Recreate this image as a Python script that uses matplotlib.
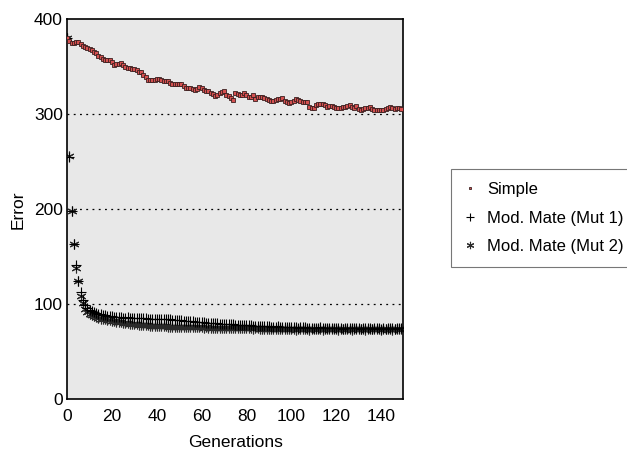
"""
Error vs generations plot for the three GA variants
"""

import numpy as np
import matplotlib
matplotlib.use('Agg')
import matplotlib.pyplot as plt

# Values, one per generation (0..149)
generations = np.arange(150)

simple_error = [
    380, 377, 375, 375, 376, 376, 374, 372, 371, 370,
    369, 368, 366, 364, 361, 360, 358, 357, 357, 357,
    355, 352, 353, 353, 354, 352, 350, 349, 349, 348,
    348, 347, 345, 344, 341, 339, 336, 336, 336, 336,
    337, 337, 336, 335, 335, 335, 333, 332, 332, 332,
    332, 332, 330, 328, 328, 328, 327, 326, 327,
    329, 328, 326, 325, 324, 322, 321, 319, 320, 322,
    323, 324, 320, 319, 317, 315, 322, 321, 320, 320,
    322, 320, 318, 318, 320, 316, 318, 318, 318, 317,
    316, 315, 314, 314, 315, 316, 316, 317, 314, 313,
    312, 313, 314, 316, 315, 314, 313, 313, 313, 308,
    307, 307, 310, 311, 311, 311, 310, 308, 309, 309,
    308, 307, 307, 307, 308, 308, 309, 310, 308, 307,
    309, 306, 305, 306, 307, 307, 308, 306, 305, 305,
    304, 304, 305, 306, 307, 308, 307, 306, 307, 307,
    306,
]

mut1_error = [
    380, 255, 198, 163, 141, 125, 113, 104, 99, 96,
    94, 93, 92, 91, 90, 90, 89, 89, 88, 88,
    88, 87, 87, 87, 87, 86, 86, 87, 86, 86,
    86, 86, 86, 86, 86, 86, 85, 85, 85, 85,
    84, 84, 84, 85, 84, 84, 84, 83, 83, 83,
    83, 83, 82, 82, 82, 82, 82, 81, 81, 81,
    81, 81, 80, 80, 80, 80, 80, 80, 79, 79,
    79, 79, 79, 79, 79, 78, 78, 78, 78, 78,
    78, 78, 78, 77, 77, 77, 77, 77, 77, 77,
    77, 76, 76, 76, 77, 76, 76, 76, 76, 76,
    76, 76, 76, 75, 76, 76, 76, 75, 75, 75,
    75, 75, 75, 76, 75, 75, 75, 75, 75, 75,
    75, 75, 75, 74, 75, 75, 75, 75, 75, 75,
    75, 74, 75, 75, 75, 75, 74, 75, 75, 75,
    74, 75, 74, 75, 75, 75, 74, 75, 75, 75,
]

mut2_error = [
    380, 256, 198, 163, 138, 125, 109, 101, 95, 92,
    90, 89, 88, 87, 86, 85, 84, 84, 83, 83,
    82, 82, 81, 81, 81, 80, 80, 80, 79, 79,
    79, 79, 78, 78, 78, 78, 78, 77, 77, 77,
    77, 77, 77, 77, 77, 76, 76, 76, 76, 76,
    76, 76, 76, 76, 76, 76, 76, 76, 76, 76,
    76, 75, 76, 75, 75, 75, 75, 75, 75, 75,
    75, 75, 75, 75, 75, 75, 75, 75, 75, 75,
    75, 75, 75, 74, 75, 75, 74, 74, 74, 74,
    74, 74, 74, 74, 74, 74, 74, 74, 74, 74,
    74, 74, 73, 74, 74, 74, 74, 74, 73, 74,
    74, 74, 74, 74, 73, 74, 74, 74, 74, 74,
    74, 73, 74, 74, 74, 74, 74, 73, 74, 74,
    74, 74, 74, 73, 74, 74, 74, 74, 74, 74,
    73, 74, 74, 74, 74, 73, 74, 74, 74, 74,
]

x_ticks = [0, 20, 40, 60, 80, 100, 120, 140]
y_ticks = [0, 100, 200, 300, 400]

# text-style asterisk (vertical bar plus two diagonals)
ASTERISK = (6, 2, 0)


def plot_error_curves(save_path='out.png'):
    """
    Plot error per generation for the simple GA and the two modified mates.
    """
    plt.rcParams['font.family'] = ['Liberation Sans', 'DejaVu Sans']

    fig = plt.figure(figsize=(6.27, 4.54), dpi=100)
    ax = fig.add_axes([0.107, 0.1205, 0.5365, 0.837])
    ax.set_facecolor('#e8e8e8')

    # dotted horizontal guides at 100/200/300 only
    for y in y_ticks[1:-1]:
        ax.axhline(y, color='black', linewidth=0.9,
                   linestyle=(0, (1.5, 3.5)), zorder=1)

    ax.plot(generations, mut2_error, linestyle='none', marker=ASTERISK,
            markersize=7, color='#2a2a2a', markeredgewidth=0.8,
            label='Mod. Mate (Mut 2)', zorder=2)
    ax.plot(generations, mut1_error, linestyle='none', marker='+',
            markersize=7.5, color='black', markeredgewidth=0.8,
            label='Mod. Mate (Mut 1)', zorder=3)
    ax.plot(generations, simple_error, linestyle='none', marker='s',
            markersize=2.4, markerfacecolor='#d45050',
            markeredgecolor='#3a2020', markeredgewidth=0.6,
            label='Simple', zorder=4)

    ax.set_xlim(0, 150)
    ax.set_ylim(0, 400)
    ax.set_xticks(x_ticks)
    ax.set_yticks(y_ticks)
    ax.tick_params(axis='x', length=0, pad=7, labelsize=12.5)
    ax.tick_params(axis='y', length=0, pad=3, labelsize=12.5)
    for spine in ax.spines.values():
        spine.set_linewidth(1.2)

    ax.set_xlabel('Generations', fontsize=12.5, labelpad=8)
    ax.set_ylabel('Error', fontsize=12.5, labelpad=6)

    handles, labels = ax.get_legend_handles_labels()
    order = [2, 1, 0]
    leg = fig.legend([handles[i] for i in order], [labels[i] for i in order],
                     loc='upper left', bbox_to_anchor=(0.7188, 0.628),
                     fontsize=12, frameon=True, fancybox=False,
                     handlelength=0.7, handletextpad=0.7, labelspacing=0.8,
                     borderpad=0.8, borderaxespad=0, markerscale=0.75)
    leg.get_frame().set_edgecolor('#555555')
    leg.get_frame().set_linewidth(0.8)

    fig.savefig(save_path, dpi=100)
    return fig


if __name__ == '__main__':
    plot_error_curves()
